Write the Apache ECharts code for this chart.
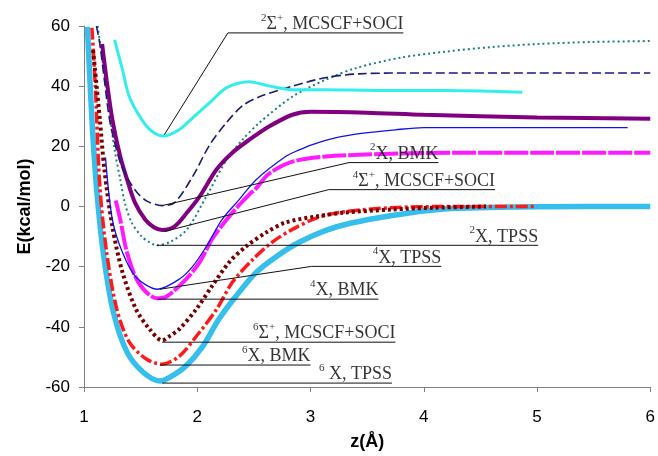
<!DOCTYPE html>
<html><head><meta charset="utf-8">
<script src="https://cdn.jsdelivr.net/npm/echarts@6/dist/echarts.min.js"></script>
<style>html,body{margin:0;padding:0;background:#fff}#c{width:658px;height:456px}</style>
</head><body><div id="c"></div>
<script>
// ---- curve data: [z (Å), E (kcal/mol)] ----
const sextetTPSS = [[1.03,59.7],[1.07,28.9],[1.11,6.6],[1.17,-15.3],[1.26,-35.2],[1.38,-48.4],[1.52,-55],[1.67,-58],[1.76,-56.7],[1.90,-53],[2.05,-46.4],[2.19,-37.5],[2.34,-29.9],[2.52,-21.9],[2.70,-16.6],[2.90,-11.9],[3.13,-8.0],[3.36,-5.5],[3.72,-3.0],[4.04,-1.3],[4.33,-0.6],[5.0,-0.1],[6.0,0]];
const sextetBMK = [[1.07,59.4],[1.10,39.8],[1.14,6.6],[1.20,-15.3],[1.29,-34.2],[1.40,-45.1],[1.55,-50.7],[1.69,-52.4],[1.84,-49.8],[2.02,-41.8],[2.17,-34.2],[2.31,-25.2],[2.49,-17.6],[2.66,-11.9],[2.84,-7.6],[3.07,-3.6],[3.31,-1.7],[3.72,-0.4],[4.2,0],[5.0,0]];
const sextetSigma = [[1.08,52],[1.14,28.9],[1.18,12.3],[1.25,-6.6],[1.34,-21.9],[1.46,-34.2],[1.58,-40.8],[1.69,-44.5],[1.76,-43],[1.84,-40.8],[1.99,-34.2],[2.13,-26.5],[2.28,-18.6],[2.43,-13.3],[2.61,-8.6],[2.78,-5.3],[3.05,-3.3],[3.31,-2.0],[3.72,-1.0],[4.1,-0.4],[4.55,0]];
const quartetBMK = [[1.28,2],[1.32,-4.3],[1.38,-15.3],[1.48,-25.2],[1.64,-30.5],[1.73,-29.9],[1.90,-24.2],[2.02,-18.6],[2.13,-10.9],[2.26,-4.3],[2.37,0.5],[2.46,4],[2.52,6],[2.63,10.8],[2.84,14.9],[3.13,16.6],[3.43,17.2],[4.0,17.8],[5.0,17.9],[6.0,17.9]];
const quartetTPSS = [[1.19,16.3],[1.25,-4.3],[1.34,-15.3],[1.46,-23.5],[1.65,-27.5],[1.84,-24.2],[1.96,-19.9],[2.08,-13.3],[2.22,-4.3],[2.37,2.3],[2.52,8.9],[2.78,16.6],[2.9,18.8],[3.01,20.5],[3.22,22.8],[3.45,24.3],[3.75,25.5],[4.0,26.2],[5.8,26.2]];
const quartetSigma = [[1.12,60],[1.17,47],[1.22,33],[1.27,18.9],[1.32,9],[1.36,1.3],[1.42,-5.3],[1.51,-10],[1.58,-11.9],[1.64,-12.9],[1.77,-11.6],[1.91,-7.6],[2.08,3.3],[2.26,15.6],[2.40,22.2],[2.55,27.9],[2.84,36.5],[3.13,42.1],[3.40,46],[3.8,49.5],[4.2,51.5],[4.6,53],[5.0,54],[5.5,54.7],[6.0,55]];
const doubletBMK = [[1.16,54],[1.20,42],[1.25,29],[1.32,16.6],[1.38,9],[1.45,1.3],[1.54,-4.3],[1.62,-7],[1.69,-7.8],[1.80,-6.6],[1.91,-2],[2.02,3.3],[2.17,12.3],[2.31,17.9],[2.46,22.2],[2.63,26.5],[2.84,30.5],[3.0,31.5],[3.5,31.2],[4.0,30.5],[5.0,29.6],[6.0,29.2]];
const doubletTPSS = [[1.11,60],[1.14,54],[1.18,42],[1.23,28],[1.32,14.6],[1.39,9],[1.47,4.6],[1.56,1.7],[1.69,0.3],[1.80,1.3],[1.96,10],[2.11,20.5],[2.26,28],[2.40,33.5],[2.55,36.5],[2.84,40],[3.13,42.8],[3.43,44.1],[4.0,44.4],[5.0,44.4],[6.0,44.4]];
const doubletSigma = [[1.27,55.4],[1.34,45.4],[1.40,36.5],[1.51,28.9],[1.60,25],[1.70,23.4],[1.84,25.5],[1.96,29.5],[2.11,34.5],[2.26,39.5],[2.46,41.5],[2.63,40.1],[2.84,38.8],[3.13,38.8],[3.6,38.6],[4.2,38.6],[4.6,38.3],[4.87,38.0]];

// ---- annotation labels and leader lines (data coordinates) ----
const annoLabels = [
  '{s|2}{t|Σ}{s|+}{t|, MCSCF+SOCI}',
  '{s|2}{t|X, BMK}',
  '{s|4}{t|Σ}{s|+}{t|, MCSCF+SOCI}',
  '{s|2}{t|X, TPSS}',
  '{s|4}{t|X, TPSS}',
  '{s|4}{t|X, BMK}',
  '{s|6}{t|Σ}{s|+}{t|, MCSCF+SOCI}',
  '{s|6}{t|X, BMK}',
  '{s|6}{t| X, TPSS}'
];
const annoPaths = [
  [[1.71,23.9],[2.27,57.7],[3.82,57.7]],
  [[1.69,0.3],[3.34,14.6],[4.13,14.6]],
  [[1.71,-8.3],[3.16,5.6],[4.63,5.6]],
  [[1.64,-12.9],[5.01,-12.9]],
  [[1.67,-27.5],[3.01,-19.9],[4.155,-19.9]],
  [[1.65,-30.8],[3.60,-30.8]],
  [[1.69,-45.1],[3.75,-45.1]],
  [[1.67,-52.7],[3.0,-52.7]],
  [[1.69,-58.7],[3.72,-58.7]]
];

const curves = [
  {data: sextetTPSS, color:'#36bfec', width:5.5, type:'solid'},
  {data: sextetBMK, color:'#ff1a1a', width:3.5, type:[12,3,3,3]},
  {data: sextetSigma, color:'#7a0000', width:4, type:[3,3]},
  {data: quartetBMK, color:'#ff1aff', width:4, type:[24,2]},
  {data: quartetTPSS, color:'#1010f0', width:1.3, type:'solid'},
  {data: quartetSigma, color:'#1a8080', width:2, type:[2,3]},
  {data: doubletBMK, color:'#800080', width:4, type:'solid'},
  {data: doubletTPSS, color:'#1a1a7a', width:1.6, type:[9,4]},
  {data: doubletSigma, color:'#33eeee', width:3, type:'solid'}
];

const series = curves.map(c => ({
  type:'line', data:c.data, smooth:0.3, symbol:'none', silent:true,
  lineStyle:{color:c.color, width:c.width, type:c.type}
}));
annoPaths.forEach(p => series.push({
  type:'line', data:p, symbol:'none', silent:true, z:5,
  lineStyle:{color:'#111', width:1}
}));
series.push({
  type:'scatter', silent:true, symbolSize:1, z:6,
  itemStyle:{color:'rgba(0,0,0,0)'},
  data: annoPaths.map((p,i) => ({value:p[p.length-1], name:annoLabels[i]})),
  label:{
    show:true, position:[0,0], align:'right', verticalAlign:'bottom', offset:[0.5,4],
    formatter: p => p.name,
    rich:{
      t:{fontFamily:'Liberation Serif', fontSize:18, lineHeight:24, color:'#000'},
      s:{fontFamily:'Liberation Serif', fontSize:11, lineHeight:11, verticalAlign:'top', color:'#000'}
    }
  }
});

const axisCol = '#808080';
const chart = echarts.init(document.getElementById('c'), null, {renderer:'canvas'});
chart.setOption({
  animation:false,
  backgroundColor:'#fff',
  grid:{left:84, right:5, top:26, bottom:68, containLabel:false},
  xAxis:{
    type:'value', min:1, max:6, interval:1,
    name:'z(Å)', nameLocation:'middle', nameGap:46,
    nameTextStyle:{fontFamily:'Liberation Sans', fontWeight:'bold', fontSize:18, color:'#000'},
    axisLine:{show:true, onZero:false, lineStyle:{color:axisCol, width:1}},
    axisTick:{show:true, length:5, lineStyle:{color:axisCol}},
    axisLabel:{fontFamily:'Liberation Sans', fontSize:17, color:'#000', margin:22},
    splitLine:{show:false}
  },
  yAxis:{
    type:'value', min:-60, max:60, interval:20,
    name:'E(kcal/mol)', nameLocation:'middle', nameGap:50,
    nameTextStyle:{fontFamily:'Liberation Sans', fontWeight:'bold', fontSize:18, color:'#000'},
    axisLine:{show:true, onZero:false, lineStyle:{color:axisCol, width:1}},
    axisTick:{show:true, length:5, lineStyle:{color:axisCol}},
    axisLabel:{fontFamily:'Liberation Sans', fontSize:17, color:'#000', margin:14},
    splitLine:{show:false}
  },
  series: series
});
</script>
</body></html>
